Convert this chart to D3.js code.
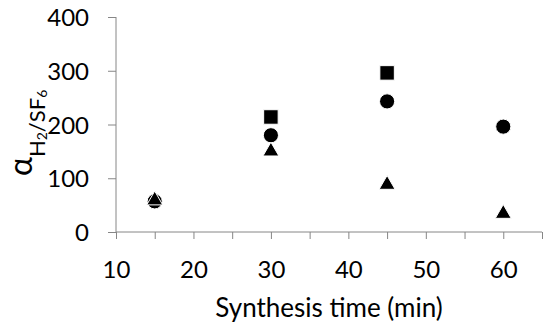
<!DOCTYPE html>
<html>
<head>
<meta charset="utf-8">
<script src="https://cdn.jsdelivr.net/npm/d3@7"></script>
<style>
  body { margin: 0; background: #fff; }
  text { font-family: Lato, "Open Sans", sans-serif; fill: #000; }
</style>
</head>
<body>
<div id="chart"></div>
<script>
const times = [15, 30, 45, 60]
const squareValues = [null, 214, 296, null]
const circleValues = [57, 180, 243, 196]
const triangleValues = [59, 150, 88, 34]
const xTicks = [10, 20, 30, 40, 50, 60]
const xMinorTicks = [15, 25, 35, 45, 55, 65]
const yTicks = [0, 100, 200, 300, 400]

const width = 550
const height = 330
const margin = {top: 17, right: 8, bottom: 98, left: 116}

const svg = d3.select("#chart").append("svg")
    .attr("width", width)
    .attr("height", height)

const x = d3.scaleLinear()
    .domain([10, 65])
    .range([margin.left, width - margin.right])

const y = d3.scaleLinear()
    .domain([0, 400])
    .range([height - margin.bottom, margin.top])

const axisColor = "#868686"

// x axis: ticks every 5, labels every 10
const xAxisG = svg.append("g")
    .attr("transform", `translate(0, ${y(0)})`)
    .call(d3.axisBottom(x)
        .tickValues(xTicks.concat(xMinorTicks))
        .tickSize(7)
        .tickPadding(0)
        .tickFormat(d => xTicks.includes(d) ? d : ""))
xAxisG.select(".domain").attr("stroke", axisColor).attr("d", `M${x(10)},0H${x(65)}`)
xAxisG.selectAll(".tick line").attr("stroke", axisColor)
xAxisG.selectAll(".tick text")
    .attr("font-size", 24)
    .attr("y", 46)
    .attr("dy", 0)

const yAxisG = svg.append("g")
    .attr("transform", `translate(${x(10)}, 0)`)
    .call(d3.axisLeft(y)
        .tickValues(yTicks)
        .tickSize(8)
        .tickPadding(19))
yAxisG.select(".domain").attr("stroke", axisColor).attr("d", `M0,${y(400)}V${y(0)}`)
yAxisG.selectAll(".tick line").attr("stroke", axisColor)
yAxisG.selectAll(".tick text")
    .attr("font-size", 24)
    .attr("dy", "0.36em")

// x title
svg.append("text")
    .attr("x", 329)
    .attr("y", 317)
    .attr("text-anchor", "middle")
    .attr("font-size", 26)
    .text("Synthesis time (min)")

// y title: alpha with H2/SF6 subscript
const yTitle = svg.append("text")
    .attr("transform", "translate(32, 176) rotate(-90)")
    .attr("text-anchor", "start")
yTitle.append("tspan").attr("font-size", 32).text("α")
yTitle.append("tspan").attr("font-size", 22).attr("dy", 13).text("H")
yTitle.append("tspan").attr("font-size", 14).attr("dy", 2).text("2")
yTitle.append("tspan").attr("font-size", 22).attr("dy", -2).text("/SF")
yTitle.append("tspan").attr("font-size", 14).attr("dy", 2).text("6")

const series = [
    {values: squareValues, type: d3.symbolSquare, size: 210},
    {values: circleValues, type: d3.symbolCircle, size: 180},
    {values: triangleValues, type: d3.symbolTriangle, size: 110}
]

series.forEach(s => {
    const pts = times.map((t, i) => [t, s.values[i]]).filter(p => p[1] != null)
    svg.append("g").selectAll("path")
        .data(pts)
        .join("path")
        .attr("transform", d => `translate(${x(d[0])}, ${y(d[1])})`)
        .attr("d", d3.symbol().type(s.type).size(s.size))
        .attr("fill", "#000")
        .attr("stroke", "#fff")
        .attr("stroke-width", 1)
})
</script>
</body>
</html>
